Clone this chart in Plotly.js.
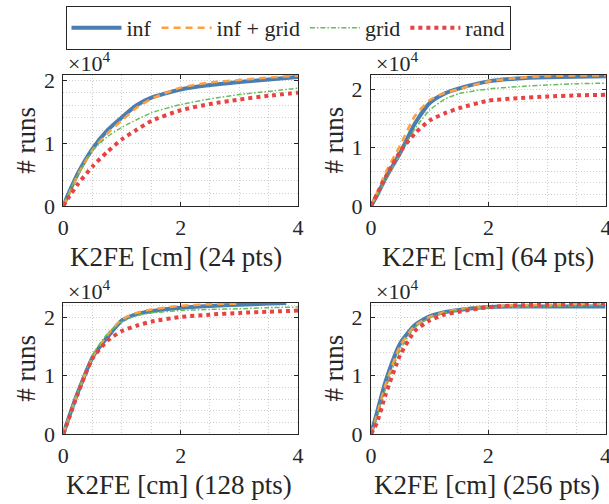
<!DOCTYPE html>
<html>
<head>
<meta charset="utf-8">
<script src="https://cdn.plot.ly/plotly-3.0.1.min.js"></script>
<style>html,body{margin:0;padding:0;background:#fff;}#plot{width:609px;height:504px;}</style>
</head>
<body>
<div id="plot"></div>
<script>
// K2FE error thresholds [cm]
const xs = [0, 0.1, 0.25, 0.5, 0.75, 1.0, 1.25, 1.5, 2.0, 2.5, 3.0, 3.5, 4.0];
const xsInf128 = [0, 0.1, 0.25, 0.5, 0.75, 1.0, 1.25, 1.5, 2.0, 2.5, 3.0, 3.5, 3.8];
const xsInfGrid128 = [0, 0.1, 0.25, 0.5, 0.75, 1.0, 1.25, 1.5, 2.0, 2.5, 3.0];

// cumulative number of runs
const inf24      = [0, 2200, 5200, 9100, 12000, 14100, 16000, 17200, 18500, 19200, 19700, 20100, 20500];
const infGrid24  = [0, 2000, 5000, 8900, 11500, 13600, 15600, 17000, 18800, 19600, 20000, 20400, 20700];
const grid24     = [0, 2200, 5000, 8800, 11000, 12500, 13700, 14800, 16100, 17000, 17700, 18200, 18700];
const rand24     = [0, 1500, 3500, 6300, 8600, 10600, 12100, 13500, 15200, 16200, 16900, 17500, 18000];

const inf64      = [0, 1800, 4800, 9200, 14200, 17700, 19300, 20200, 21400, 21900, 22100, 22200, 22300];
const infGrid64  = [0, 2200, 5800, 10500, 15500, 18200, 19400, 20100, 21400, 22000, 22300, 22400, 22400];
const grid64     = [0, 1700, 4500, 9000, 13300, 16500, 18300, 19300, 20100, 20500, 20800, 21000, 21100];
const rand64     = [0, 2000, 5000, 9400, 12500, 14700, 15900, 16800, 18100, 18500, 18800, 19000, 19100];

const inf128     = [0, 3000, 7200, 13200, 16600, 19500, 20600, 21100, 21700, 22000, 22200, 22400, 22500];
const infGrid128 = [0, 3000, 7200, 13300, 17000, 19700, 20800, 21400, 22000, 22300, 22400];
const grid128    = [0, 3000, 7300, 13600, 17200, 19300, 20300, 20800, 21200, 21400, 21500, 21700, 21800];
const rand128    = [0, 2800, 7000, 13000, 16000, 17700, 18600, 19300, 20100, 20500, 20800, 21000, 21200];

const inf256     = [0, 3600, 9100, 15600, 18700, 20200, 20900, 21300, 21800, 21900, 21900, 21900, 21900];
const infGrid256 = [0, 3200, 8500, 15200, 18600, 20100, 20900, 21400, 21900, 22100, 22200, 22300, 22400];
const grid256    = [0, 2700, 7800, 14500, 18300, 19900, 20800, 21300, 21700, 21800, 21900, 22000, 22100];
const rand256    = [0, 1900, 6800, 13600, 17700, 19500, 20500, 21000, 21800, 22100, 22200, 22300, 22400];

const seriesNames = ['inf', 'inf + grid', 'grid', 'rand'];
const panelLabels = ['K2FE [cm] (24 pts)', 'K2FE [cm] (64 pts)', 'K2FE [cm] (128 pts)', 'K2FE [cm] (256 pts)'];
const xTicks = [0, 2, 4];
const yTickVals = [0, 10000, 20000];
const yTickText = ['0', '1', '2'];
const yMax = [20800, 22500, 22500, 22500];

const styles = [
  {color: '#4a7eb0', width: 4, dash: 'solid'},
  {color: '#ffa040', width: 2.5, dash: '7px,5px'},
  {color: '#64be5a', width: 1.5, dash: '5px,2px,1.5px,2px'},
  {color: '#e84343', width: 4, dash: 'dot'}
];

const panels = [
  [[xs, inf24], [xs, infGrid24], [xs, grid24], [xs, rand24]],
  [[xs, inf64], [xs, infGrid64], [xs, grid64], [xs, rand64]],
  [[xsInf128, inf128], [xsInfGrid128, infGrid128], [xs, grid128], [xs, rand128]],
  [[xs, inf256], [xs, infGrid256], [xs, grid256], [xs, rand256]]
];

const font = 'Liberation Serif';
const txt = '#262626';
const gridCol = '#cfcfcf';
const traces = [];
panels.forEach((p, pi) => {
  const ax = pi === 0 ? '' : String(pi + 1);
  p.forEach((s, si) => {
    traces.push({
      x: s[0], y: s[1], type: 'scatter', mode: 'lines',
      name: seriesNames[si], legendgroup: seriesNames[si], showlegend: pi === 0,
      line: {color: styles[si].color, width: styles[si].width, dash: styles[si].dash, shape: 'spline', smoothing: 0.6},
      xaxis: 'x' + ax, yaxis: 'y' + ax, hoverinfo: 'skip'
    });
  });
});

const W = 609, H = 504;
const boxes = [
  {l: 63.3, r: 298, t: 75, b: 206},
  {l: 371, r: 606, t: 75, b: 206},
  {l: 63.3, r: 298, t: 303, b: 434},
  {l: 371, r: 605.5, t: 303, b: 434}
];
const titleX = [176, 487.5, 179, 487];

const layout = {
  width: W, height: H,
  margin: {l: 0, r: 0, t: 0, b: 0},
  paper_bgcolor: '#fff', plot_bgcolor: '#fff',
  font: {family: font, color: txt},
  showlegend: true,
  legend: {
    orientation: 'h', x: 288 / W, xanchor: 'center', y: 1 - 6 / H, yanchor: 'top',
    bordercolor: '#262626', borderwidth: 1, bgcolor: '#fff',
    font: {family: font, size: 22, color: txt},
    itemwidth: 50, tracegroupgap: 0, traceorder: 'normal'
  },
  annotations: []
};

boxes.forEach((b, i) => {
  const ax = i === 0 ? '' : String(i + 1);
  const common = {
    showline: true, mirror: 'ticks', linecolor: txt, linewidth: 1,
    ticks: 'inside', ticklen: 4, tickcolor: txt, tickwidth: 1,
    showgrid: true, gridcolor: gridCol, griddash: '1px,2px', gridwidth: 1,
    zeroline: false, tickfont: {family: font, size: 22, color: txt}, fixedrange: true,
    ticklabeloverflow: 'allow'
  };
  layout['xaxis' + ax] = Object.assign({}, common, {
    domain: [b.l / W, b.r / W], anchor: 'y' + ax, range: [0, 4],
    tickvals: xTicks, ticklabelstandoff: 2,
    minor: {dtick: 0.5, showgrid: true, gridcolor: gridCol, griddash: '1px,2px', gridwidth: 1, ticks: ''}
  });
  layout['yaxis' + ax] = Object.assign({}, common, {
    domain: [1 - b.b / H, 1 - b.t / H], anchor: 'x' + ax, range: [0, yMax[i]],
    tickvals: yTickVals, ticktext: yTickText, ticklabelstandoff: 3,
    minor: {dtick: 2000, showgrid: true, gridcolor: gridCol, griddash: '1px,2px', gridwidth: 1, ticks: ''}
  });
  layout.annotations.push({
    xref: 'paper', yref: 'paper', x: titleX[i] / W, y: 1 - (b.b + 51) / H,
    xanchor: 'center', yanchor: 'middle', showarrow: false,
    text: panelLabels[i], font: {family: font, size: 27, color: txt}
  });
  layout.annotations.push({
    xref: 'paper', yref: 'paper', x: (b.l - 38) / W, y: 1 - ((b.t + b.b) / 2) / H,
    xanchor: 'center', yanchor: 'middle', showarrow: false, textangle: -90,
    text: '# runs', font: {family: font, size: 27, color: txt}
  });
  layout.annotations.push({
    xref: 'paper', yref: 'paper', x: (b.l + 3) / W, y: 1 - (b.t - 13) / H,
    xanchor: 'left', yanchor: 'middle', showarrow: false,
    text: '×10<sup>4</sup>', font: {family: font, size: 22, color: txt}
  });
});

Plotly.newPlot('plot', traces, layout, {staticPlot: true, displayModeBar: false});
</script>
</body>
</html>
